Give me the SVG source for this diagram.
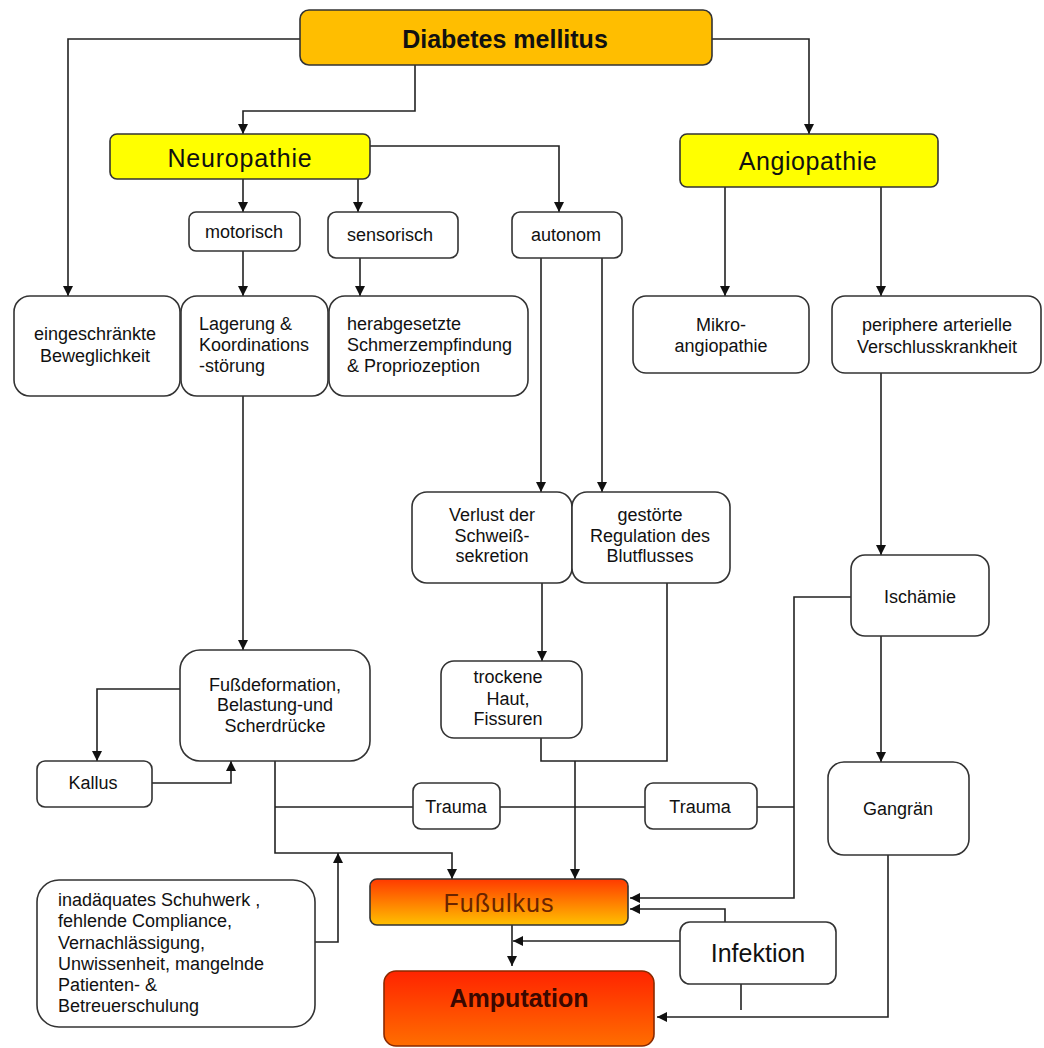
<svg xmlns="http://www.w3.org/2000/svg" width="1044" height="1048" viewBox="0 0 1044 1048">
<style>
.box{fill:#fff;stroke:#333;stroke-width:1.6}
.t{font-family:"Liberation Sans",Arial,sans-serif;font-size:18px;fill:#111}
.c{text-anchor:middle}
.big{font-size:25px}
.b{font-weight:bold}
.ln{fill:none;stroke:#222;stroke-width:1.6}
</style>
<defs>
<marker id="ar" markerUnits="userSpaceOnUse" markerWidth="10" markerHeight="10" refX="10" refY="5" orient="auto">
<path d="M0,0 L10,5 L0,10 z" fill="#111"/>
</marker>
<linearGradient id="gUlk" x1="0" y1="0" x2="0" y2="1">
<stop offset="0" stop-color="#FF3A00"/>
<stop offset="1" stop-color="#FFC000"/>
</linearGradient>
<linearGradient id="gAmp" x1="0" y1="0" x2="0" y2="1">
<stop offset="0" stop-color="#FF2400"/>
<stop offset="1" stop-color="#FF6E00"/>
</linearGradient>
</defs>
<rect width="1044" height="1048" fill="#fff"/>

<g id="connectors">
<path class="ln" d="M300,39 H68 V296" marker-end="url(#ar)"/>
<path class="ln" d="M415,65 V111 H243 V134" marker-end="url(#ar)"/>
<path class="ln" d="M712,39 H809 V134" marker-end="url(#ar)"/>
<path class="ln" d="M370,146 H559 V212" marker-end="url(#ar)"/>
<path class="ln" d="M243,179 V212" marker-end="url(#ar)"/>
<path class="ln" d="M358,179 V212" marker-end="url(#ar)"/>
<path class="ln" d="M243,251 V296" marker-end="url(#ar)"/>
<path class="ln" d="M360,258 V296" marker-end="url(#ar)"/>
<path class="ln" d="M541,258 V492" marker-end="url(#ar)"/>
<path class="ln" d="M602,258 V492" marker-end="url(#ar)"/>
<path class="ln" d="M725,187 V296" marker-end="url(#ar)"/>
<path class="ln" d="M881,187 V296" marker-end="url(#ar)"/>
<path class="ln" d="M881,373 V555" marker-end="url(#ar)"/>
<path class="ln" d="M881,636 V762" marker-end="url(#ar)"/>
<path class="ln" d="M243,396 V650" marker-end="url(#ar)"/>
<path class="ln" d="M542,583 V661" marker-end="url(#ar)"/>
<path class="ln" d="M541,738 V761 H667 V583"/>
<path class="ln" d="M575,761 V879" marker-end="url(#ar)"/>
<path class="ln" d="M180,689 H97 V761" marker-end="url(#ar)"/>
<path class="ln" d="M152,783 H231 V761" marker-end="url(#ar)"/>
<path class="ln" d="M275,761 V853 H452 V879" marker-end="url(#ar)"/>
<path class="ln" d="M275,807 H413 M500,807 H645 M757,807 H794"/>
<path class="ln" d="M851,597 H794 V898 H630" marker-end="url(#ar)"/>
<path class="ln" d="M315,942 H338 V853" marker-end="url(#ar)"/>
<path class="ln" d="M725,922 V909 H630" marker-end="url(#ar)"/>
<path class="ln" d="M680,941 H513" marker-end="url(#ar)"/>
<path class="ln" d="M741,984 V1010"/>
<path class="ln" d="M888,855 V1017 H657" marker-end="url(#ar)"/>
<path class="ln" d="M512,925 V966" marker-end="url(#ar)"/>
</g>

<g id="diabetes">
<rect x="300" y="10" width="412" height="55" rx="9" fill="#FFBE00" stroke="#333" stroke-width="1.6"/>
<text class="t c big b" x="505" y="48">Diabetes mellitus</text>
</g>
<g id="neuropathie">
<rect x="110" y="134" width="260" height="45" rx="7" fill="#FFFF00" stroke="#333" stroke-width="1.6"/>
<text class="t c big" x="240" y="167" letter-spacing="0.8">Neuropathie</text>
</g>
<g id="angiopathie">
<rect x="680" y="134" width="258" height="53" rx="7" fill="#FFFF00" stroke="#333" stroke-width="1.6"/>
<text class="t c big" x="808" y="170" letter-spacing="0.6">Angiopathie</text>
</g>
<g id="motorisch">
<rect class="box" x="189" y="212" width="111" height="39" rx="7"/>
<text class="t c" x="244" y="238">motorisch</text>
</g>
<g id="sensorisch">
<rect class="box" x="328" y="212" width="130" height="46" rx="8"/>
<text class="t c" x="390" y="241">sensorisch</text>
</g>
<g id="autonom">
<rect class="box" x="512" y="212" width="110" height="46" rx="8"/>
<text class="t c" x="566" y="241">autonom</text>
</g>
<g id="eingeschraenkt">
<rect class="box" x="14" y="296" width="166" height="100" rx="16"/>
<text class="t c" x="95" y="340">eingeschränkte</text>
<text class="t c" x="95" y="362">Beweglichkeit</text>
</g>
<g id="lagerung">
<rect class="box" x="181" y="296" width="147" height="100" rx="16"/>
<text class="t" x="199" y="330">Lagerung &amp;</text>
<text class="t" x="199" y="351">Koordinations</text>
<text class="t" x="199" y="372">-störung</text>
</g>
<g id="herabgesetzt">
<rect class="box" x="329" y="296" width="199" height="100" rx="16"/>
<text class="t" x="347" y="330">herabgesetzte</text>
<text class="t" x="347" y="351">Schmerzempfindung</text>
<text class="t" x="347" y="372">&amp; Propriozeption</text>
</g>
<g id="mikroangiopathie">
<rect class="box" x="633" y="296" width="176" height="77" rx="13"/>
<text class="t c" x="721" y="331">Mikro-</text>
<text class="t c" x="721" y="352">angiopathie</text>
</g>
<g id="pavk">
<rect class="box" x="832" y="296" width="209" height="77" rx="13"/>
<text class="t c" x="937" y="331">periphere arterielle</text>
<text class="t c" x="937" y="353">Verschlusskrankheit</text>
</g>
<g id="verlust">
<rect class="box" x="412" y="492" width="160" height="91" rx="15"/>
<text class="t c" x="492" y="521">Verlust der</text>
<text class="t c" x="492" y="542">Schweiß-</text>
<text class="t c" x="492" y="562">sekretion</text>
</g>
<g id="gestoert">
<rect class="box" x="572" y="492" width="158" height="91" rx="15"/>
<text class="t c" x="650" y="521">gestörte</text>
<text class="t c" x="650" y="542">Regulation des</text>
<text class="t c" x="650" y="562">Blutflusses</text>
</g>
<g id="ischaemie">
<rect class="box" x="851" y="555" width="138" height="81" rx="14"/>
<text class="t c" x="920" y="603" font-size="20">Ischämie</text>
</g>
<g id="trockene">
<rect class="box" x="441" y="661" width="141" height="77" rx="13"/>
<text class="t c" x="508" y="683">trockene</text>
<text class="t c" x="508" y="705">Haut,</text>
<text class="t c" x="508" y="725">Fissuren</text>
</g>
<g id="fussdeformation">
<rect class="box" x="180" y="650" width="190" height="111" rx="20"/>
<text class="t c" x="275" y="691">Fußdeformation,</text>
<text class="t c" x="275" y="711">Belastung-und</text>
<text class="t c" x="275" y="732">Scherdrücke</text>
</g>
<g id="kallus">
<rect class="box" x="37" y="761" width="115" height="46" rx="8"/>
<text class="t c" x="93" y="789">Kallus</text>
</g>
<g id="trauma1">
<rect class="box" x="413" y="783" width="87" height="46" rx="8"/>
<text class="t c" x="456" y="813" font-size="19">Trauma</text>
</g>
<g id="trauma2">
<rect class="box" x="645" y="783" width="112" height="46" rx="8"/>
<text class="t c" x="700" y="813" font-size="19">Trauma</text>
</g>
<g id="gangraen">
<rect class="box" x="828" y="762" width="141" height="93" rx="16"/>
<text class="t c" x="898" y="815" font-size="20">Gangrän</text>
</g>
<g id="inadaequat">
<rect class="box" x="37" y="880" width="278" height="147" rx="22"/>
<text class="t" x="58" y="906">inadäquates Schuhwerk ,</text>
<text class="t" x="58" y="927">fehlende Compliance,</text>
<text class="t" x="58" y="949">Vernachlässigung,</text>
<text class="t" x="58" y="970">Unwissenheit, mangelnde</text>
<text class="t" x="58" y="991">Patienten- &amp;</text>
<text class="t" x="58" y="1012">Betreuerschulung</text>
</g>
<g id="fussulkus">
<rect x="370" y="879" width="258" height="46" rx="7" fill="url(#gUlk)" stroke="#333" stroke-width="1.6"/>
<text class="t c big" x="499" y="912" fill="#6a2400" style="fill:#6a2400" letter-spacing="1">Fußulkus</text>
</g>
<g id="infektion">
<rect class="box" x="680" y="922" width="156" height="62" rx="10"/>
<text class="t c big" x="758" y="962">Infektion</text>
</g>
<g id="amputation">
<rect x="384" y="971" width="270" height="75" rx="12" fill="url(#gAmp)" stroke="#8a2a00" stroke-width="1.6"/>
<text class="t c big b" x="519" y="1007" style="fill:#3a0800">Amputation</text>
</g>
</svg>
